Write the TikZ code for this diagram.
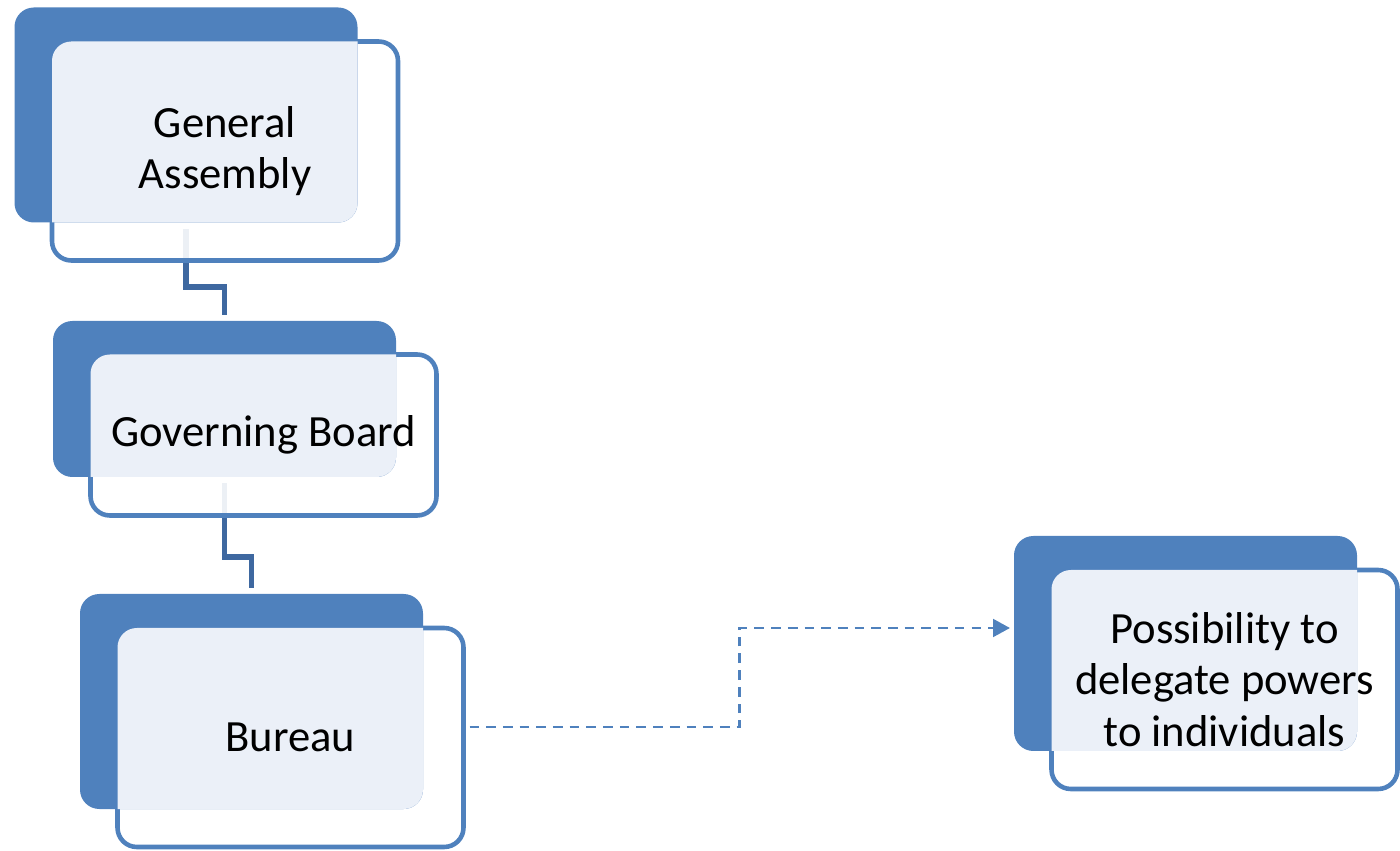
\documentclass[tikz,border=0pt]{standalone}
\usepackage{fontspec}
\setmainfont{Carlito}
\usetikzlibrary{arrows.meta,backgrounds}
\definecolor{boxblue}{RGB}{79,129,189}
\definecolor{boxlight}{RGB}{235,240,248}
\definecolor{linkblue}{RGB}{62,104,160}
\tikzset{
  darkbox/.style={fill=boxblue, rounded corners=11pt, minimum width=6.86cm, outer sep=0pt, inner sep=0pt},
  framebox/.style={draw=boxblue, line width=2.6pt, fill=white, fill opacity=0.9, rounded corners=11pt,
                   minimum width=6.92cm, outer sep=0pt, inner sep=0pt},
  boxtext/.style={align=center, font=\fontsize{25.4}{29.2}\selectfont, text=black},
  link/.style={draw=linkblue, line width=3pt},
  delegate/.style={draw=boxblue, line width=1.7pt, dash pattern=on 5.5pt off 4pt,
                   -{Triangle[length=9.6pt,width=10pt]}}
}
\begin{document}
\begin{tikzpicture}
    \useasboundingbox (0,0) rectangle (28,17);
    % name / centre of the dark box / dark height / frame height / text
    \foreach \n/\p/\h/\g/\t in {ga/{3.72,14.70}/4.30/4.38/{General\\Assembly},
                                gb/{4.49,9.02}/3.12/3.22/{Governing Board},
                                bu/{5.03,2.97}/4.30/4.38/{Bureau},
                                dp/{23.71,4.13}/4.30/4.38/{Possibility to\\delegate powers\\to individuals}}{
       \coordinate (\n-c) at (\p);
       \node[framebox, minimum height=\g cm] (\n-o) at ([shift={(0.78,-0.72)}]\n-c) {};
       \node[darkbox, minimum height=\h cm] (\n) at (\n-c) {};
       \begin{scope}   % light part where the two boxes overlap
          \clip[rounded corners=11pt] (\n.south west) rectangle (\n.north east);
          \fill[boxlight, rounded corners=11pt] (\n-o.south west) rectangle (\n-o.north east);
       \end{scope}
       \node[boxtext] (\n-t) at (\n-o) {\t};
    }
    \begin{pgfonlayer}{background}
       \draw[link, shorten <=0.13cm, shorten >=0.12cm] (ga.south) -- ++(0,-1.29) -| (gb.north);
       \draw[link, shorten <=0.13cm, shorten >=0.12cm] (gb.south) -- ++(0,-1.60) -| (bu.north);
    \end{pgfonlayer}
    \draw[delegate, shorten >=0.08cm] ([shift={(0.12,0.21)}]bu-o.east) -- ++(5.40,0) |- ([yshift=0.31cm]dp.west);
\end{tikzpicture}
\end{document}
